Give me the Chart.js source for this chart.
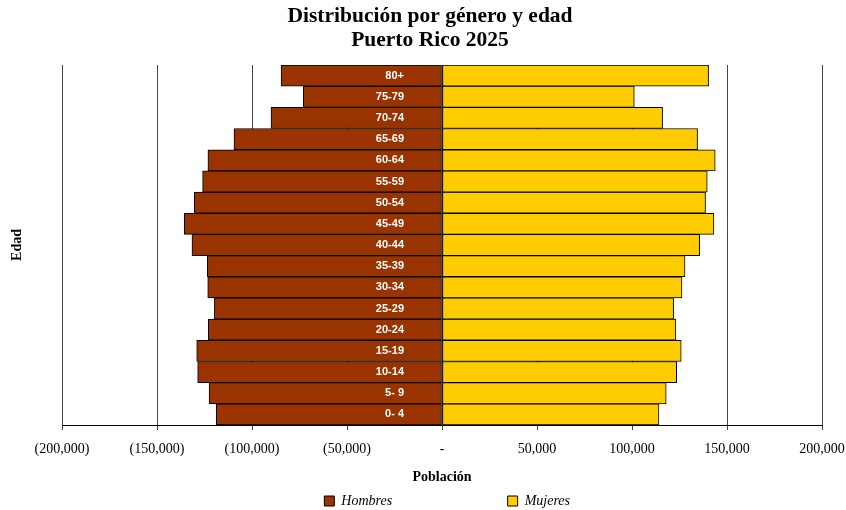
<!DOCTYPE html>
<html>
<head>
<meta charset="utf-8">
<script src="https://cdn.jsdelivr.net/npm/chart.js@4.4.1/dist/chart.umd.min.js"></script>
<style>
  body { margin: 0; background: #fff; }
  #wrap { width: 846px; height: 510px; position: relative; }
</style>
</head>
<body>
<div id="wrap"><canvas id="pyramidChart"></canvas></div>
<script>
// ========================
// DATOS
// ========================
const grupos = ['0- 4', '5- 9', '10-14', '15-19', '20-24', '25-29', '30-34', '35-39', '40-44',
                '45-49', '50-54', '55-59', '60-64', '65-69', '70-74', '75-79', '80+'];
const hombres = [118800, 122600, 128600, 129100, 123000, 119800, 123300, 123500, 131600,
                 135600, 130400, 126000, 123200, 109500, 90000, 73000, 84700];
const mujeres = [114200, 118000, 123500, 125900, 123100, 121900, 126300, 127900, 135600,
                 143100, 138700, 139600, 143800, 134500, 116100, 101200, 140300];
const ticksX = [-200000, -150000, -100000, -50000, 0, 50000, 100000, 150000, 200000];
const titulo = ['Distribución por género y edad', 'Puerto Rico 2025'];

const serif = "'Times New Roman', 'Liberation Serif', serif";

function formatoPoblacion(v) {
    if (v === 0) return '-';
    const s = Math.abs(v).toLocaleString('en-US');
    return v < 0 ? '(' + s + ')' : s;
}

// etiquetas de edad dentro de las barras
const etiquetasEdad = {
    id: 'etiquetasEdad',
    afterDatasetsDraw(chart) {
        const ctx = chart.ctx;
        const x = chart.scales.x.getPixelForValue(0) - 38;
        ctx.save();
        ctx.font = "bold 11px 'Liberation Sans', Arial, sans-serif";
        ctx.fillStyle = '#fff';
        ctx.textAlign = 'right';
        ctx.textBaseline = 'middle';
        grupos.forEach((g, i) => {
            ctx.fillText(g, x, chart.scales.y.getPixelForValue(i));
        });
        ctx.restore();
    }
};

Chart.defaults.color = '#000';
Chart.defaults.font.family = serif;

new Chart(document.getElementById('pyramidChart'), {
    type: 'bar',
    data: {
        labels: grupos,
        datasets: [{
            label: 'Hombres',
            data: hombres.map(v => -v),
            backgroundColor: '#993300',
            borderColor: '#000',
            borderWidth: 1,
            borderSkipped: false,
            barPercentage: 1,
            categoryPercentage: 1
        }, {
            label: 'Mujeres',
            data: mujeres,
            backgroundColor: '#FFCC00',
            borderColor: '#000',
            borderWidth: 1,
            borderSkipped: false,
            barPercentage: 1,
            categoryPercentage: 1
        }]
    },
    options: {
        indexAxis: 'y',
        responsive: true,
        maintainAspectRatio: false,
        animation: false,
        layout: { padding: { left: 14, right: 0, top: 0, bottom: 0 } },
        plugins: {
            title: {
                display: true,
                text: titulo,
                color: '#000',
                font: { family: serif, size: 21.5, weight: 'bold', lineHeight: '24px' },
                padding: { top: 4, bottom: 13 }
            },
            legend: {
                position: 'bottom',
                align: 'end',
                fullSize: false,
                maxHeight: 16,
                labels: {
                    color: '#000',
                    boxWidth: 10,
                    boxHeight: 10,
                    padding: 0,
                    font: { family: serif, size: 14, style: 'italic' },
                    generateLabels(chart) {
                        const items = Chart.defaults.plugins.legend.labels.generateLabels(chart);
                        items[0].text = items[0].text + '\u2003'.repeat(8) + ' ';
                        items[1].text = items[1].text + '\u2003'.repeat(18);
                        return items;
                    }
                }
            },
            tooltip: { enabled: false }
        },
        scales: {
            x: {
                stacked: true,
                min: -200000,
                max: 200000,
                afterBuildTicks: s => { s.ticks = ticksX.map(v => ({ value: v })); },
                afterFit: s => { s.paddingRight = 24; },
                ticks: {
                    color: '#000',
                    padding: 10.6,
                    maxRotation: 0,
                    font: { family: serif, size: 14 },
                    callback: v => formatoPoblacion(v)
                },
                grid: { color: '#444', lineWidth: 1, tickLength: 5 },
                border: { color: '#000' },
                title: {
                    display: true,
                    text: 'Población',
                    color: '#000',
                    font: { family: serif, size: 14, weight: 'bold' },
                    padding: { top: 0.6, bottom: 8.6 }
                }
            },
            y: {
                stacked: true,
                reverse: true,
                afterFit: s => { s.width = 48; },
                ticks: { display: false },
                grid: { display: false },
                border: { display: false },
                title: {
                    display: true,
                    text: 'Edad',
                    color: '#000',
                    font: { family: serif, size: 14, weight: 'bold' },
                    padding: { top: -5, bottom: 0 }
                }
            }
        }
    },
    plugins: [etiquetasEdad]
});
</script>
</body>
</html>
